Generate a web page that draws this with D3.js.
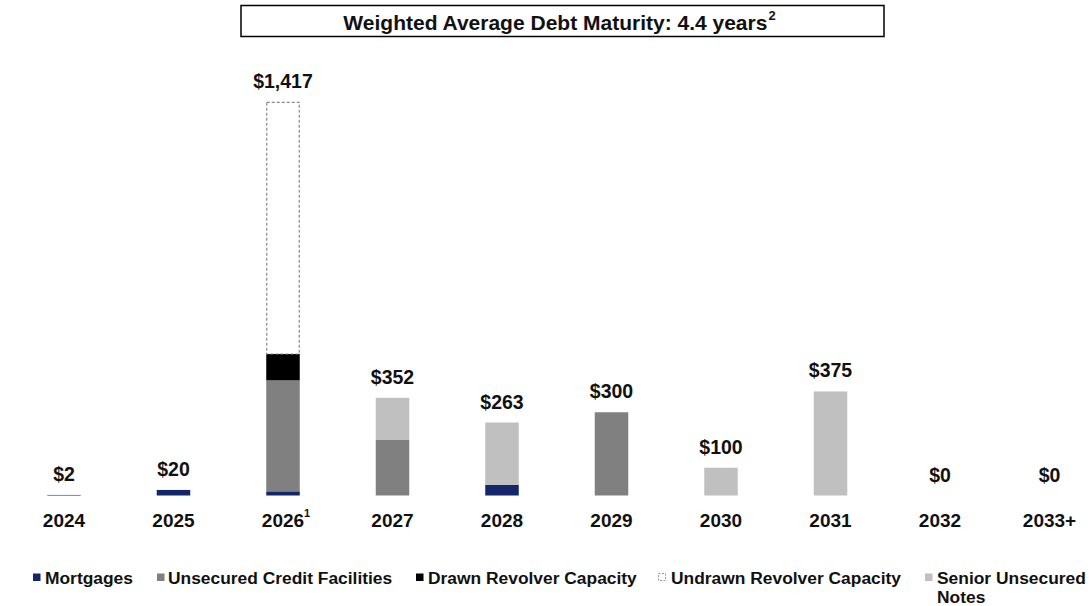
<!DOCTYPE html>
<html>
<head>
<meta charset="utf-8">
<script src="https://cdn.jsdelivr.net/npm/d3@7/dist/d3.min.js"></script>
<style>
  html, body { margin: 0; padding: 0; background: #fff; }
  svg { display: block; font-family: "Liberation Sans", Arial, sans-serif; }
</style>
</head>
<body>
<svg id="chart" width="1090" height="606"></svg>
<script>
// Debt maturity schedule ($ millions)
const years = ["2024", "2025", "2026", "2027", "2028", "2029", "2030", "2031", "2032", "2033+"];
const yearNotes = ["", "", "1", "", "", "", "", "", "", ""];
const mortgages       = [2, 20, 15, 0, 38, 0, 0, 0, 0, 0];
const unsecuredCredit = [0, 0, 400, 200, 0, 300, 0, 0, 0, 0];
const drawnRevolver   = [0, 0, 95, 0, 0, 0, 0, 0, 0, 0];
const undrawnRevolver = [0, 0, 907, 0, 0, 0, 0, 0, 0, 0];
const seniorNotes     = [0, 0, 0, 152, 225, 0, 100, 375, 0, 0];

const seriesKeys  = ["Mortgages", "Unsecured Credit Facilities", "Drawn Revolver Capacity", "Undrawn Revolver Capacity", "Senior Unsecured Notes"];
const seriesData  = [mortgages, unsecuredCredit, drawnRevolver, undrawnRevolver, seniorNotes];
const titleText = "Weighted Average Debt Maturity: 4.4 years";
const titleNote = "2";

const colors = {
  "Mortgages": "#13266a",
  "Unsecured Credit Facilities": "#808080",
  "Drawn Revolver Capacity": "#000000",
  "Undrawn Revolver Capacity": "#ffffff",
  "Senior Unsecured Notes": "#c0c0c0"
};

const table = years.map((y, i) => {
  const row = { year: y };
  seriesKeys.forEach((k, j) => row[k] = seriesData[j][i]);
  row.total = d3.sum(seriesData, s => s[i]);
  return row;
});

const svg = d3.select("#chart");
const baseline = 495.5;

const x = d3.scaleBand()
  .domain(years)
  .range([9.25, 1104.25])
  .paddingInner(0.694)
  .paddingOuter(0.347);

const y = d3.scaleLinear()
  .domain([0, 1417])
  .range([baseline, baseline - 393.2]);

const stack = d3.stack().keys(seriesKeys);
const layers = stack(table);

// Stacked bars
const g = svg.append("g");
layers.forEach(layer => {
  const key = layer.key;
  const dashed = key === "Undrawn Revolver Capacity";
  g.selectAll(null)
    .data(layer.filter(d => d[1] - d[0] > 0))
    .join("rect")
    .attr("x", d => x(d.data.year) + (dashed ? 0.5 : 0))
    .attr("width", x.bandwidth() - (dashed ? 1 : 0))
    .attr("y", d => y(d[1]))
    .attr("height", d => y(d[0]) - y(d[1]))
    .attr("fill", colors[key])
    .attr("stroke", dashed ? "#8a8a8a" : "none")
    .attr("stroke-width", dashed ? 1.2 : 0)
    .attr("stroke-dasharray", dashed ? "3,2" : null);
});

// Total labels above bars
svg.append("g").selectAll("text")
  .data(table)
  .join("text")
  .attr("x", d => x(d.year) + x.bandwidth() / 2)
  .attr("y", d => y(d.total) - 14)
  .attr("text-anchor", "middle")
  .attr("font-size", 19.5)
  .attr("font-weight", "bold")
  .attr("fill", "#111")
  .text(d => "$" + d3.format(",")(d.total));

// Category axis labels
const xAxis = svg.append("g").attr("transform", `translate(0,${baseline})`)
  .call(d3.axisBottom(x).tickSize(0).tickPadding(0));
xAxis.select(".domain").remove();
xAxis.selectAll(".tick text")
  .attr("y", 31)
  .attr("dy", null)
  .attr("font-size", 19)
  .attr("font-weight", "bold")
  .attr("font-family", "Liberation Sans, Arial, sans-serif")
  .attr("fill", "#111");
xAxis.selectAll(".tick").each(function (d, i) {
  if (!yearNotes[i]) return;
  const t = d3.select(this).select("text");
  const w = t.node().getComputedTextLength();
  d3.select(this).append("text")
    .attr("x", w / 2 + 3)
    .attr("y", 21)
    .attr("font-size", 11)
    .attr("font-weight", "bold")
    .attr("fill", "#111")
    .text(yearNotes[i]);
});

// Title box
svg.append("rect")
  .attr("x", 241).attr("y", 5.5)
  .attr("width", 643).attr("height", 31)
  .attr("fill", "#fff").attr("stroke", "#000").attr("stroke-width", 1.5);
const title = svg.append("text")
  .attr("x", 559.5).attr("y", 30)
  .attr("text-anchor", "middle")
  .attr("font-size", 21)
  .attr("font-weight", "bold")
  .attr("fill", "#111");
title.append("tspan").text(titleText);
title.append("tspan").attr("font-size", 13).attr("dy", -10).attr("dx", 1).text(titleNote);

// Legend
const legendItems = [
  { key: "Mortgages", mx: 33, tx: 45 },
  { key: "Unsecured Credit Facilities", mx: 157, tx: 168 },
  { key: "Drawn Revolver Capacity", mx: 416, tx: 428 },
  { key: "Undrawn Revolver Capacity", mx: 658, tx: 671 },
  { key: "Senior Unsecured Notes", mx: 925, tx: 937 }
];
const legend = svg.append("g");
legendItems.forEach(it => {
  const dashed = it.key === "Undrawn Revolver Capacity";
  legend.append("rect")
    .attr("x", it.mx + (dashed ? 0.5 : 0)).attr("y", 573.5)
    .attr("width", dashed ? 7 : 7.5).attr("height", dashed ? 7 : 7.5)
    .attr("fill", dashed ? "#fff" : colors[it.key])
    .attr("stroke", dashed ? "#999" : "none")
    .attr("stroke-dasharray", dashed ? "2,1.5" : null);
  const t = legend.append("text")
    .attr("x", it.tx).attr("y", 584)
    .attr("font-size", 17.4)
    .attr("font-weight", "bold")
    .attr("fill", "#111");
  if (it.key === "Senior Unsecured Notes") {
    t.append("tspan").attr("x", it.tx).text("Senior Unsecured");
    t.append("tspan").attr("x", it.tx).attr("dy", 19).text("Notes");
  } else {
    t.text(it.key);
  }
});
</script>
</body>
</html>
